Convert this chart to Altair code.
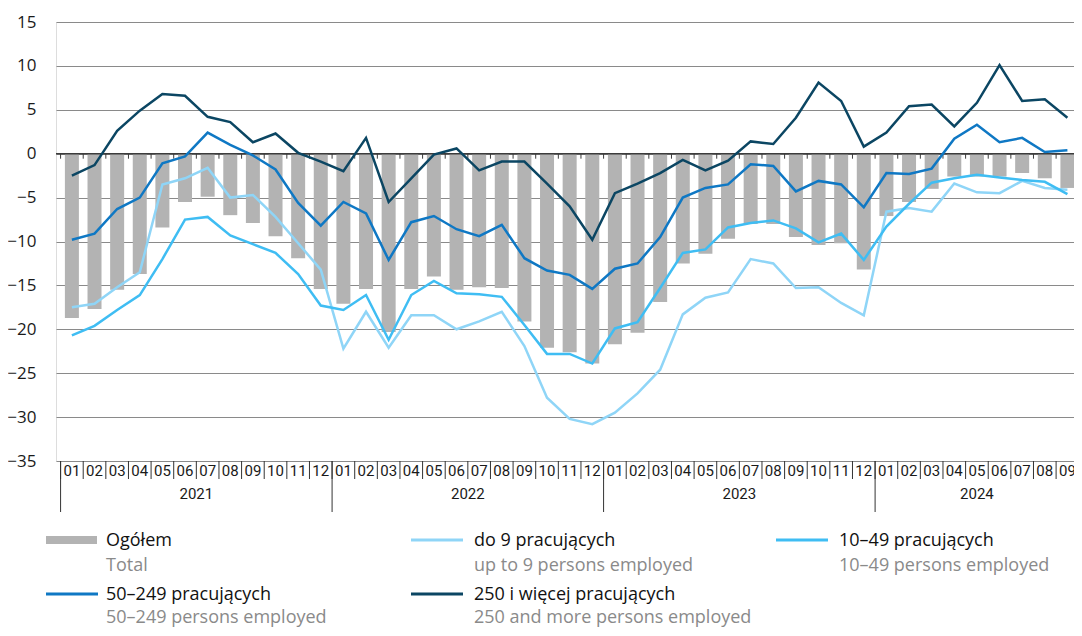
import altair as alt
import pandas as pd

# ---------------- data ----------------
month_labels = ["01", "02", "03", "04", "05", "06", "07", "08", "09", "10", "11", "12",
                "01", "02", "03", "04", "05", "06", "07", "08", "09", "10", "11", "12",
                "01", "02", "03", "04", "05", "06", "07", "08", "09", "10", "11", "12",
                "01", "02", "03", "04", "05", "06", "07", "08", "09"]
year_labels = ["2021"] * 12 + ["2022"] * 12 + ["2023"] * 12 + ["2024"] * 9

total = [-18.7, -17.7, -15.5, -13.7, -8.4, -5.5, -4.9, -7.0, -7.9, -9.4, -11.9, -15.4,
         -17.1, -15.4, -20.3, -15.4, -14.0, -15.5, -15.2, -15.3, -19.1, -22.1, -22.6, -23.9,
         -21.7, -20.4, -16.9, -12.5, -11.4, -9.7, -8.0, -8.0, -9.5, -10.4, -10.2, -13.2,
         -7.1, -5.5, -4.0, -2.6, -2.6, -2.6, -2.2, -2.8, -3.9]

do9 = [-17.5, -17.1, -15.2, -13.5, -3.5, -2.8, -1.6, -5.0, -4.7, -7.2, -10.2, -13.2,
       -22.2, -18.0, -22.1, -18.4, -18.4, -20.0, -19.1, -18.0, -21.9, -27.8, -30.2, -30.8,
       -29.5, -27.3, -24.6, -18.3, -16.4, -15.8, -12.0, -12.5, -15.3, -15.2, -17.0, -18.4,
       -6.6, -6.2, -6.6, -3.4, -4.4, -4.5, -3.1, -3.9, -4.1]

s10_49 = [-20.7, -19.6, -17.8, -16.1, -12.0, -7.5, -7.2, -9.3, -10.3, -11.3, -13.7, -17.3,
          -17.8, -16.1, -21.2, -16.1, -14.5, -15.9, -16.0, -16.3, -19.5, -22.8, -22.8, -23.9,
          -19.9, -19.2, -15.3, -11.3, -10.9, -8.4, -7.9, -7.6, -8.5, -10.1, -9.1, -12.1,
          -8.3, -5.7, -3.3, -2.8, -2.4, -2.7, -3.0, -3.2, -4.6]

s50_249 = [-9.8, -9.1, -6.3, -5.0, -1.1, -0.3, 2.4, 1.0, -0.2, -1.8, -5.6, -8.2,
           -5.5, -6.8, -12.1, -7.8, -7.1, -8.6, -9.4, -8.1, -11.9, -13.3, -13.8, -15.4,
           -13.1, -12.5, -9.5, -5.0, -3.9, -3.5, -1.2, -1.4, -4.3, -3.1, -3.5, -6.1,
           -2.2, -2.3, -1.7, 1.7, 3.3, 1.3, 1.8, 0.2, 0.4]

s250 = [-2.5, -1.3, 2.6, 4.9, 6.8, 6.6, 4.2, 3.6, 1.3, 2.3, 0.1, -0.9,
        -2.0, 1.8, -5.5, -2.8, -0.1, 0.6, -1.9, -0.9, -0.9, -3.4, -6.0, -9.8,
        -4.5, -3.4, -2.2, -0.7, -1.9, -0.8, 1.4, 1.1, 4.1, 8.1, 6.0, 0.8,
        2.4, 5.4, 5.6, 3.1, 5.8, 10.1, 6.0, 6.2, 4.1]

series_values = [do9, s10_49, s50_249, s250]
series_pl = ["do 9 pracujących", "10–49 pracujących", "50–249 pracujących", "250 i więcej pracujących"]
series_en = ["up to 9 persons employed", "10–49 persons employed", "50–249 persons employed",
             "250 and more persons employed"]
series_colors = ["#8fd5f7", "#3fbdf3", "#0f78c4", "#0b4663"]

total_pl = "Ogółem"
total_en = "Total"
total_color = "#b3b3b3"

y_ticks = [-35, -30, -25, -20, -15, -10, -5, 0, 5, 10, 15]

# ---------------- layout (style only) ----------------
PAD_L, PAD_T = 48, 14
W = 1066 - PAD_L
H = 439
PAD_B = 620 - PAD_T - H
FONT = "Open Sans"
COND = "Roboto"
ORIGIN_X, ORIGIN_Y = 8 + PAD_L, 8 + PAD_T

n = len(total)
df = pd.DataFrame({"idx": list(range(n)), "month": month_labels, "year": year_labels, "total": total})
df["b"] = df["idx"] - 0.5
years_df = df.groupby("year", as_index=False)["idx"].mean()
year_starts = df[df["month"] == "01"]

step = 22.85
x0 = -11 / step
xscale = alt.Scale(domain=[x0, x0 + W / step], nice=False, zero=False)
yscale = alt.Scale(domain=[y_ticks[0], y_ticks[-1]], nice=False, zero=False)
yaxis = alt.Axis(values=y_ticks, grid=True, gridColor="#8a8a8a", gridWidth=1, domain=False,
                 ticks=False, labelFontSize=17, labelFont=FONT, labelColor="#1a1a1a",
                 labelPadding=20, title=None)

zero_px = H * (y_ticks[-1] - 0) / (y_ticks[-1] - y_ticks[0])

layers = []

bars = alt.Chart(df).mark_bar(size=14, color=total_color, clip=True).encode(
    x=alt.X("idx:Q", scale=xscale, axis=None),
    y=alt.Y("total:Q", scale=yscale, axis=yaxis),
)
layers.append(bars)

one = pd.DataFrame({"k": [0]})
zero_rule = alt.Chart(one).mark_rule(color="#3c3c3c", strokeWidth=1.5).encode(
    y=alt.Y(datum=0, scale=yscale, axis=yaxis)
)
layers.append(zero_rule)

zero_ticks = alt.Chart(df).mark_rule(color="#3c3c3c", strokeWidth=1).encode(
    x=alt.X("b:Q", scale=xscale, axis=None),
    y=alt.Y(datum=0, scale=yscale, axis=yaxis),
    y2=alt.value(zero_px + 5),
)
layers.append(zero_ticks)

for vals, name, col in zip(series_values, series_pl, series_colors):
    sdf = pd.DataFrame({"idx": list(range(n)), "value": vals})
    layers.append(
        alt.Chart(sdf).mark_line(color=col, strokeWidth=2.5, clip=True).encode(
            x=alt.X("idx:Q", scale=xscale, axis=None),
            y=alt.Y("value:Q", scale=yscale, axis=yaxis),
        )
    )

# category axis: month separators, year separators, labels
layers.append(
    alt.Chart(df).mark_rule(color="#333333", strokeWidth=1).encode(
        x=alt.X("b:Q", scale=xscale, axis=None), y=alt.value(H), y2=alt.value(H + 18)
    )
)
layers.append(
    alt.Chart(year_starts).mark_rule(color="#333333", strokeWidth=1).encode(
        x=alt.X("b:Q", scale=xscale, axis=None), y=alt.value(H), y2=alt.value(H + 51)
    )
)
layers.append(
    alt.Chart(df).mark_text(font=COND, fontSize=15, color="#1a1a1a", baseline="middle").encode(
        x=alt.X("idx:Q", scale=xscale, axis=None), y=alt.value(H + 10), text="month:N"
    )
)
layers.append(
    alt.Chart(years_df).mark_text(font=COND, fontSize=15, color="#1a1a1a", baseline="middle").encode(
        x=alt.X("idx:Q", scale=xscale, axis=None), y=alt.value(H + 33), text="year:N"
    )
)

# legend (manual)
leg_items = [(total_pl, total_en, total_color, "bar")] + [
    (p, e, c, "line") for p, e, c in zip(series_pl, series_en, series_colors)
]
col_sym_x = [46, 411, 776]
col_txt_x = [106, 474, 839]
row_sym_y = [540, 594]
row_pl_y = [546, 600]
row_en_y = [571, 623]
for i, (pl, en, col, kind) in enumerate(leg_items):
    c, r = i % 3, i // 3
    sx = col_sym_x[c] - ORIGIN_X
    sy = row_sym_y[r] - ORIGIN_Y
    if kind == "bar":
        layers.append(alt.Chart(one).mark_rect(color=col).encode(
            x=alt.value(sx), x2=alt.value(sx + 51), y=alt.value(sy - 4), y2=alt.value(sy + 4)))
    else:
        layers.append(alt.Chart(one).mark_rule(color=col, strokeWidth=3).encode(
            x=alt.value(sx), x2=alt.value(sx + 52), y=alt.value(sy)))
    tx = col_txt_x[c] - ORIGIN_X
    layers.append(alt.Chart(one).mark_text(font=FONT, fontSize=18, color="#111111", align="left",
                                           baseline="alphabetic").encode(
        x=alt.value(tx), y=alt.value(row_pl_y[r] - ORIGIN_Y), text=alt.value(pl)))
    layers.append(alt.Chart(one).mark_text(font=FONT, fontSize=18, color="#8a8a8a", align="left",
                                           baseline="alphabetic").encode(
        x=alt.value(tx), y=alt.value(row_en_y[r] - ORIGIN_Y), text=alt.value(en)))

chart = alt.layer(*layers).properties(
    width=W, height=H,
    padding={"left": PAD_L, "top": PAD_T, "right": 0, "bottom": PAD_B},
    autosize=alt.AutoSizeParams(type="none"),
).configure_view(stroke=None).configure(background="white")

chart.save("out.html", embed_options={"renderer": "svg", "actions": False})
